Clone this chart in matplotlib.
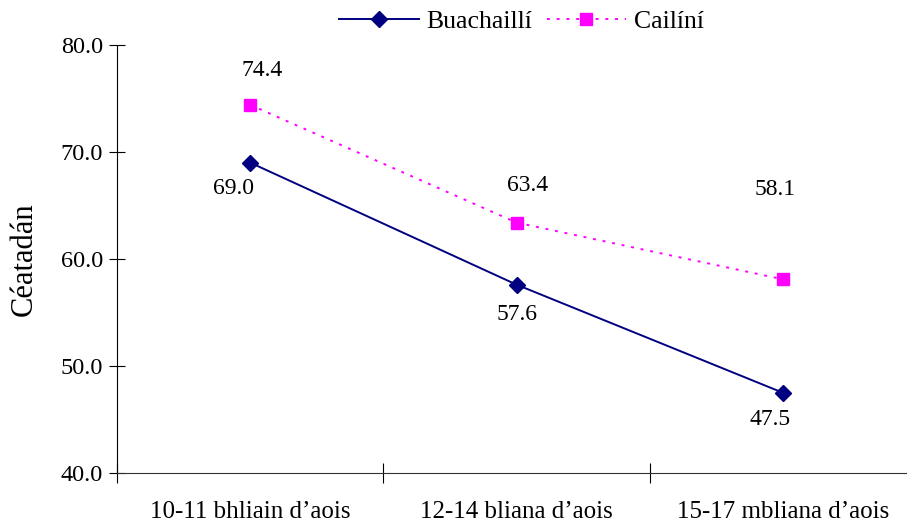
import matplotlib
matplotlib.use("Agg")
import matplotlib.pyplot as plt

categories = ["10-11 bhliain d\u2019aois", "12-14 bliana d\u2019aois", "15-17 mbliana d\u2019aois"]
boys = [69.0, 57.6, 47.5]
girls = [74.4, 63.4, 58.1]

# label offsets in pixels (dx, dy)
boys_off = [(-17, -26), (1, -30), (-13, -27)]
girls_off = [(12, 34), (11, 37), (-8, 90)]

plt.rcParams["font.family"] = ["Liberation Serif", "DejaVu Serif"]

fig = plt.figure(figsize=(9.07, 5.24), dpi=100)
ax = fig.add_axes([0.129, 0.0973, 0.881, 0.817])

x = [0, 1, 2]
ax.plot(x, boys, color="#000080", marker="D", markersize=8.5, linewidth=1.4, label="Buachaill\u00ed")
ax.plot(x, girls, color="#FF00FF", marker="s", markersize=8.5, linewidth=1.4,
        linestyle=(0, (1.5, 3.5)), label="Cail\u00edn\u00ed")

for i in range(3):
    ax.annotate("%.1f" % boys[i], (x[i], boys[i]), xytext=boys_off[i], textcoords="offset pixels",
                ha="center", va="center", fontsize=17)
    ax.annotate("%.1f" % girls[i], (x[i], girls[i]), xytext=girls_off[i], textcoords="offset pixels",
                ha="center", va="center", fontsize=17)

ax.set_xlim(-0.5, 2.5)
ax.set_ylim(40, 80)
ax.set_yticks([40, 50, 60, 70, 80])
ax.set_yticklabels(["%.1f" % v for v in [40, 50, 60, 70, 80]], fontsize=17.5)
ax.set_xticks([-0.5, 0.5, 1.5, 2.5])
ax.set_xticklabels([])
ax.set_xticks(x, minor=True)
ax.set_xticklabels(categories, minor=True, fontsize=18)
ax.tick_params(axis="x", which="minor", length=0, pad=20)
ax.tick_params(axis="x", which="major", direction="inout", length=14)
ax.tick_params(axis="y", direction="inout", length=12, pad=4)

ax.spines["top"].set_visible(False)
ax.spines["right"].set_visible(False)
ax.spines["bottom"].set_color("#333333")

ax.set_ylabel("C\u00e9atad\u00e1n", fontsize=22, labelpad=16)

fig.legend(loc="upper center", bbox_to_anchor=(0.575, 1.025), ncol=2, frameon=False,
           fontsize=18.5, handlelength=3.1, columnspacing=0.55, handletextpad=0.3)

fig.savefig("out.png", dpi=100)
